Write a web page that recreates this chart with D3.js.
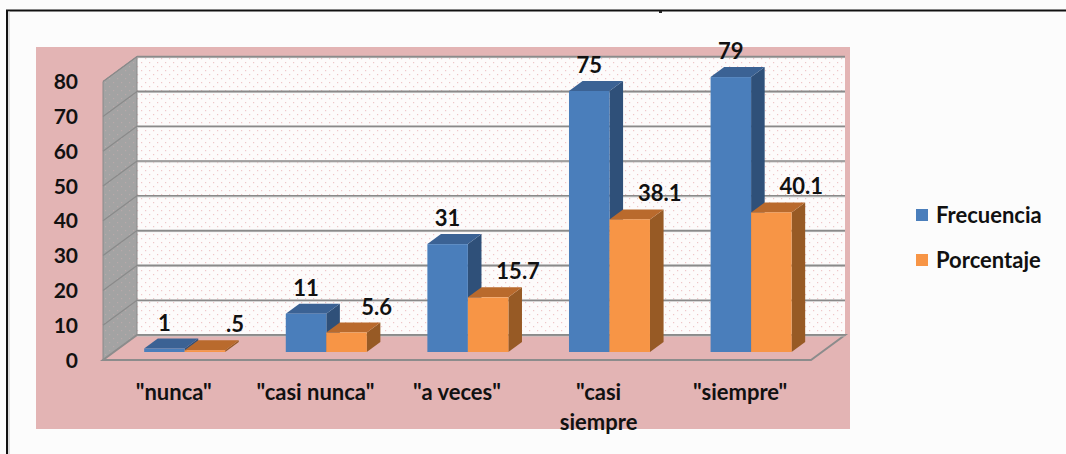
<!DOCTYPE html>
<html>
<head>
<meta charset="utf-8">
<script src="https://cdn.jsdelivr.net/npm/d3@7"></script>
<style>
  html, body { margin: 0; padding: 0; background: #fcfcfc; }
  svg { display: block; }
  text { font-family: Lato, "Open Sans", sans-serif; font-weight: bold; fill: #111; }
</style>
</head>
<body>
<svg id="chart" width="1066" height="454"></svg>
<script>
// Response categories and the two series drawn for each
const categories = ['"nunca"', '"casi nunca"', '"a veces"', '"casi siempre', '"siempre"'];
const categoryLines = [['"nunca"'], ['"casi nunca"'], ['"a veces"'], ['"casi', 'siempre'], ['"siempre"']];
const seriesNames = ["Frecuencia", "Porcentaje"];
const frecuencia = [1, 11, 31, 75, 79];
const porcentaje = [0.5, 5.6, 15.7, 38.1, 40.1];
const valueLabels = [["1", "11", "31", "75", "79"], [".5", "5.6", "15.7", "38.1", "40.1"]];
const yTicks = [0, 10, 20, 30, 40, 50, 60, 70, 80];

const series = [frecuencia, porcentaje];
const colors = [
  { front: "#4a7ebb", top: "#3b6294", side: "#2f5079" },
  { front: "#f79546", top: "#b96a2d", side: "#975a25" }
];

const svg = d3.select("#chart");

// oblique projection: depth z runs from 0 (front of floor) to 1 (back wall)
const DX = 34, DY = 25;
const P = (x, y, z) => [x + z * DX, y - z * DY];

const x0 = d3.scaleBand().domain(categories).range([103, 811])
  .paddingInner(0.428).paddingOuter(0.214);
const x1 = d3.scaleBand().domain(seriesNames).range([0, x0.bandwidth()]);
const y = d3.scaleLinear().domain([0, 80]).range([360, 81.6]);

const defs = svg.append("defs");
const dots = defs.append("pattern").attr("id", "wallDots")
  .attr("width", 8).attr("height", 8).attr("patternUnits", "userSpaceOnUse");
dots.append("rect").attr("width", 8).attr("height", 8).attr("fill", "#fdfbfb");
dots.append("rect").attr("x", 1).attr("y", 2).attr("width", 1.2).attr("height", 1.2).attr("fill", "#efc6c8");
dots.append("rect").attr("x", 5).attr("y", 6).attr("width", 1.2).attr("height", 1.2).attr("fill", "#efc6c8");
const gdots = defs.append("pattern").attr("id", "sideDots")
  .attr("width", 8).attr("height", 8).attr("patternUnits", "userSpaceOnUse");
gdots.append("rect").attr("width", 8).attr("height", 8).attr("fill", "#a3a3a3");
gdots.append("rect").attr("x", 1).attr("y", 2).attr("width", 1.2).attr("height", 1.2).attr("fill", "#b9a9aa");
gdots.append("rect").attr("x", 5).attr("y", 6).attr("width", 1.2).attr("height", 1.2).attr("fill", "#b9a9aa");

// outer frame
svg.append("line").attr("x1", 6).attr("x2", 1066).attr("y1", 10.5).attr("y2", 10.5)
  .attr("stroke", "#111").attr("stroke-width", 2);
svg.append("line").attr("x1", 7).attr("x2", 7).attr("y1", 10).attr("y2", 454)
  .attr("stroke", "#111").attr("stroke-width", 2);
svg.append("line").attr("x1", 9).attr("x2", 9).attr("y1", 11).attr("y2", 454)
  .attr("stroke", "#bdbdbd").attr("stroke-width", 1);
svg.append("rect").attr("x", 659).attr("y", 11).attr("width", 3).attr("height", 2).attr("fill", "#222");

// plot area
svg.append("rect").attr("x", 36).attr("y", 47).attr("width", 814).attr("height", 382)
  .attr("fill", "#e3b4b4");

const xl = x0.range()[0], xr = x0.range()[1];
const poly = pts => pts.map(p => p.join(",")).join(" ");

// back wall
const bw0 = P(xl, y(80), 1), bw1 = P(xr, y(0), 1);
svg.append("rect").attr("x", bw0[0]).attr("y", bw0[1])
  .attr("width", bw1[0] - bw0[0]).attr("height", bw1[1] - bw0[1])
  .attr("fill", "url(#wallDots)");

// side wall
svg.append("polygon")
  .attr("points", poly([P(xl, y(0), 0), P(xl, y(0), 1), P(xl, y(80), 1), P(xl, y(80), 0)]))
  .attr("fill", "url(#sideDots)").attr("stroke", "#8a8a8a").attr("stroke-width", 1);

// floor
svg.append("polygon")
  .attr("points", poly([P(xl, y(0), 0), P(xr, y(0), 0), P(xr, y(0), 1), P(xl, y(0), 1)]))
  .attr("fill", "#e3b4b4").attr("stroke", "#8c8c8c").attr("stroke-width", 2);

// gridlines on back and side walls
yTicks.forEach(v => {
  const a = P(xl, y(v), 1), b = P(xr, y(v), 1), c = P(xl, y(v), 0);
  svg.append("line").attr("x1", a[0]).attr("x2", b[0]).attr("y1", a[1] + 1).attr("y2", b[1] + 1)
    .attr("stroke", "#c4c4c4").attr("stroke-width", 1);
  svg.append("line").attr("x1", a[0]).attr("x2", b[0]).attr("y1", a[1]).attr("y2", b[1])
    .attr("stroke", "#8a8a8a").attr("stroke-width", 1.6);
  if (v > 0) {
    svg.append("line").attr("x1", c[0]).attr("x2", a[0]).attr("y1", c[1]).attr("y2", a[1])
      .attr("stroke", "#8a8a8a").attr("stroke-width", 1.2);
  }
});

// y tick labels
svg.append("g").selectAll("text").data(yTicks).join("text")
  .attr("x", 78).attr("y", d => y(d)).attr("dy", "0.36em")
  .attr("text-anchor", "end").attr("font-size", 21).text(d => d);

// bars
const zf = 0.32, zb = 0.72;
const barG = svg.append("g");
series.forEach((vals, si) => {
  vals.forEach((v, ci) => {
    const bx = x0(categories[ci]) + x1(seriesNames[si]);
    const w = x1.bandwidth();
    const c = colors[si];
    const fl = P(bx, y(v), zf), fr = P(bx + w, y(v), zf);
    const fb = P(bx, y(0), zf), fbr = P(bx + w, y(0), zf);
    const bl = P(bx, y(v), zb), br = P(bx + w, y(v), zb), bbr = P(bx + w, y(0), zb);
    barG.append("polygon").attr("points", poly([fr, br, bbr, fbr])).attr("fill", c.side);
    barG.append("polygon").attr("points", poly([fl, bl, br, fr])).attr("fill", c.top);
    barG.append("rect").attr("x", fl[0]).attr("y", fl[1])
      .attr("width", w).attr("height", fb[1] - fl[1]).attr("fill", c.front);
  });
});

// value labels
const labelShift = [0, 30];
series.forEach((vals, si) => {
  vals.forEach((v, ci) => {
    const bx = x0(categories[ci]) + x1(seriesNames[si]) + x1.bandwidth() / 2;
    const p = P(bx, y(v), zf);
    svg.append("text").attr("x", p[0] + labelShift[si]).attr("y", p[1] - 18)
      .attr("text-anchor", "middle").attr("font-size", 22).text(valueLabels[si][ci]);
  });
});

// category labels
categories.forEach((cat, ci) => {
  const cx = x0(cat) + x0.bandwidth() / 2;
  const t = svg.append("text").attr("x", cx).attr("y", 400)
    .attr("text-anchor", "middle").attr("font-size", 22);
  categoryLines[ci].forEach((line, li) => {
    t.append("tspan").attr("x", cx).attr("dy", li ? 30 : 0).text(line);
  });
});

// legend
const lg = svg.append("g");
seriesNames.forEach((name, i) => {
  lg.append("rect").attr("x", 916).attr("y", 209 + i * 45).attr("width", 12).attr("height", 12)
    .attr("fill", colors[i].front);
  lg.append("text").attr("x", 936).attr("y", 215 + i * 45).attr("dy", "0.36em")
    .attr("font-size", 22).text(name);
});
</script>
</body>
</html>
